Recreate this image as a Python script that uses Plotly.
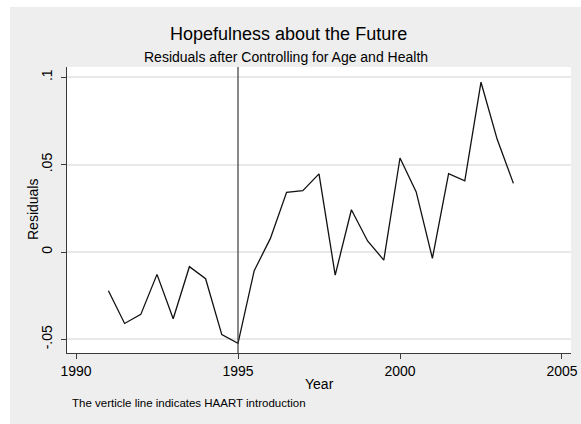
import plotly.graph_objects as go

# Half-year residuals of hopefulness, after controlling for age and health
years = [1991.0, 1991.5, 1992.0, 1992.5, 1993.0, 1993.5, 1994.0, 1994.5,
         1995.0, 1995.5, 1996.0, 1996.5, 1997.0, 1997.5, 1998.0, 1998.5,
         1999.0, 1999.5, 2000.0, 2000.5, 2001.0, 2001.5, 2002.0, 2002.5,
         2003.0, 2003.5]
residuals = [-0.0222, -0.0409, -0.0357, -0.0128, -0.0382, -0.0084, -0.0153, -0.0473,
             -0.0523, -0.0107, 0.0078, 0.0342, 0.0351, 0.0447, -0.0132, 0.0242,
             0.0063, -0.0046, 0.0538, 0.0344, -0.0036, 0.0448, 0.0408, 0.0972,
             0.0645, 0.0393]

haart_year = 1995

x_ticks = [1990, 1995, 2000, 2005]
y_ticks = [-0.05, 0, 0.05, 0.1]
y_tick_labels = ["-.05", "0", ".05", ".1"]

W, H = 581, 424
L, R, T, B = 67, 10, 67, 71
pw, ph = W - L - R, H - T - B

def px(x):
    return (x - L) / pw

def py(y):
    return (H - B - y) / ph

FONT = "Liberation Sans, Arial, Helvetica, sans-serif"
AXIS_COL = "#3a3a3a"

fig = go.Figure()
fig.add_trace(go.Scatter(
    x=years, y=residuals, mode="lines",
    line=dict(color="#111111", width=1.3),
    hoverinfo="skip", showlegend=False,
))

shapes = [
    # HAART introduction marker
    dict(type="line", xref="x", yref="paper", x0=haart_year, x1=haart_year,
         y0=0, y1=1, line=dict(color=AXIS_COL, width=1.2), layer="above"),
    # white margin strips around the grey graph region
    dict(type="rect", xref="paper", yref="paper", x0=px(-5), x1=px(10),
         y0=py(H + 5), y1=py(-5), fillcolor="white", line=dict(width=0), layer="below"),
    dict(type="rect", xref="paper", yref="paper", x0=px(-5), x1=px(W + 5),
         y0=py(7), y1=py(-5), fillcolor="white", line=dict(width=0), layer="below"),
]

annotations = [
    dict(text="Hopefulness about the Future", x=px(288), y=py(34),
         xref="paper", yref="paper", xanchor="center", yanchor="middle",
         showarrow=False, font=dict(size=18, color="black", family=FONT)),
    dict(text="Residuals after Controlling for Age and Health", x=px(286), y=py(57),
         xref="paper", yref="paper", xanchor="center", yanchor="middle",
         showarrow=False, font=dict(size=14, color="black", family=FONT)),
    dict(text="Year", x=px(319), y=py(384),
         xref="paper", yref="paper", xanchor="center", yanchor="middle",
         showarrow=False, font=dict(size=14, color="black", family=FONT)),
    dict(text="Residuals", x=px(33), y=py(210), textangle=-90,
         xref="paper", yref="paper", xanchor="center", yanchor="middle",
         showarrow=False, font=dict(size=14, color="black", family=FONT)),
    dict(text="The verticle line indicates HAART introduction", x=px(70), y=py(403),
         xref="paper", yref="paper", xanchor="left", yanchor="middle",
         showarrow=False, font=dict(size=11.5, color="black", family=FONT)),
]

fig.update_layout(
    width=W, height=H,
    margin=dict(l=L, r=R, t=T, b=B, pad=0),
    paper_bgcolor="#eeeeee",
    plot_bgcolor="white",
    font=dict(family=FONT, color="black", size=14),
    shapes=shapes,
    annotations=annotations,
    xaxis=dict(
        range=[1989.722, 2005.278], tickvals=x_ticks,
        ticks="outside", ticklen=5, tickwidth=1, tickcolor=AXIS_COL,
        showline=True, linecolor=AXIS_COL, linewidth=1.2,
        showgrid=False, zeroline=False, automargin=False,
        tickfont=dict(size=14, color="black"),
    ),
    yaxis=dict(
        range=[-0.0578, 0.1059], tickvals=y_ticks, ticktext=y_tick_labels,
        tickangle=-90, ticklabelstandoff=3,
        ticks="outside", ticklen=5, tickwidth=1, tickcolor=AXIS_COL,
        showline=True, linecolor=AXIS_COL, linewidth=1.2,
        showgrid=True, gridcolor="#e8e8e8", gridwidth=1.5, zeroline=False,
        automargin=False,
        tickfont=dict(size=14, color="black"),
    ),
)

fig.write_html("out.html")
